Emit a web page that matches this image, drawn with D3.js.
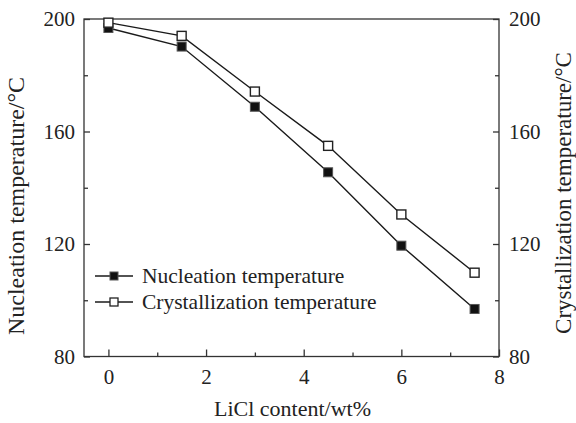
<!DOCTYPE html>
<html><head><meta charset="utf-8">
<script src="https://cdn.jsdelivr.net/npm/d3@7"></script>
<style>body{margin:0;background:#fff}svg{display:block}text{font-family:"Liberation Serif","Times New Roman",serif;fill:#222}</style>
</head><body><svg id="c" width="576" height="423"></svg>
<script>
const licl = [0, 1.5, 3, 4.5, 6, 7.5];
const nucleation = [196.8, 190.2, 168.8, 145.5, 119.4, 96.9];
const crystallization = [198.7, 194.0, 174.2, 154.9, 130.5, 109.8];
const xTicks = [0, 2, 4, 6, 8];
const yTicks = [80, 120, 160, 200];
const seriesNames = ["Nucleation temperature", "Crystallization temperature"];
const xLabel = "LiCl content/wt%";
const yLabelLeft = "Nucleation temperature/°C";
const yLabelRight = "Crystallization temperature/°C";

const svg = d3.select("#c");
const L = 84, R = 499, T = 19, B = 356.5;
const x = d3.scaleLinear().domain([-0.5, 8]).range([L, R]);
const y = d3.scaleLinear().domain([80, 200]).range([B, T]);
const fs = 21;
const axisCol = "#333";

// frame
svg.append("rect").attr("x", L).attr("y", T).attr("width", R - L).attr("height", B - T)
  .attr("fill", "none").attr("stroke", axisCol).attr("stroke-width", 1.3);

// x ticks (inward)
const xMinor = d3.range(1, 8, 2);
const bx = svg.append("g").attr("transform", `translate(0,${B})`)
  .call(d3.axisBottom(x).tickValues(xTicks).tickSize(-7).tickPadding(13).tickFormat(d3.format("d")));
bx.select(".domain").remove();
bx.selectAll("line").attr("stroke", axisCol).attr("stroke-width", 1.3);
bx.selectAll("text").attr("font-size", fs).attr("fill", "#222").attr("font-family", "Liberation Serif");
const bxm = svg.append("g").attr("transform", `translate(0,${B})`)
  .call(d3.axisBottom(x).tickValues(xMinor).tickSize(-4).tickFormat(""));
bxm.select(".domain").remove();
bxm.selectAll("line").attr("stroke", axisCol).attr("stroke-width", 1.3);

// left axis
const yMinor = [100, 140, 180];
const ly = svg.append("g").attr("transform", `translate(${L},0)`)
  .call(d3.axisLeft(y).tickValues(yTicks).tickSize(-6).tickPadding(9));
ly.select(".domain").remove();
ly.selectAll("line").attr("stroke", axisCol).attr("stroke-width", 1.3);
ly.selectAll("text").attr("font-size", fs).attr("fill", "#222").attr("font-family", "Liberation Serif");
const lym = svg.append("g").attr("transform", `translate(${L},0)`)
  .call(d3.axisLeft(y).tickValues(yMinor).tickSize(-4).tickFormat(""));
lym.select(".domain").remove();
lym.selectAll("line").attr("stroke", axisCol).attr("stroke-width", 1.3);

// right axis
const ry = svg.append("g").attr("transform", `translate(${R},0)`)
  .call(d3.axisRight(y).tickValues(yTicks).tickSize(-6).tickPadding(10));
ry.select(".domain").remove();
ry.selectAll("line").attr("stroke", axisCol).attr("stroke-width", 1.3);
ry.selectAll("text").attr("font-size", fs).attr("fill", "#222").attr("font-family", "Liberation Serif");
const rym = svg.append("g").attr("transform", `translate(${R},0)`)
  .call(d3.axisRight(y).tickValues(yMinor).tickSize(-4).tickFormat(""));
rym.select(".domain").remove();
rym.selectAll("line").attr("stroke", axisCol).attr("stroke-width", 1.3);

// axis titles
svg.append("text").attr("transform", `translate(${(L + R) / 2 + 1},416)`).attr("text-anchor", "middle")
  .attr("font-size", 22).text(xLabel);
svg.append("text").attr("transform", `translate(24,206) rotate(-90)`).attr("text-anchor", "middle")
  .attr("font-size", 24).text(yLabelLeft);
svg.append("text").attr("transform", `translate(571,193) rotate(-90)`).attr("text-anchor", "middle")
  .attr("font-size", 23).text(yLabelRight);

// series
const line = d3.line().x(d => x(d[0])).y(d => y(d[1]));
const series = [
  {vals: nucleation, filled: true},
  {vals: crystallization, filled: false}
];
const ms = 9;
series.forEach(s => {
  const pts = licl.map((v, i) => [v, s.vals[i]]);
  svg.append("path").attr("d", line(pts)).attr("fill", "none").attr("stroke", "#1a1a1a").attr("stroke-width", 1.4);
  svg.selectAll(null).data(pts).enter().append("rect")
    .attr("x", d => x(d[0]) - ms / 2).attr("y", d => y(d[1]) - ms / 2)
    .attr("width", ms).attr("height", ms)
    .attr("fill", s.filled ? "#111" : "#fff")
    .attr("stroke", s.filled ? "#555" : "#222").attr("stroke-width", s.filled ? 1 : 1.4);
});

// legend
const legY = [276, 302];
seriesNames.forEach((name, i) => {
  const g = svg.append("g");
  g.append("line").attr("x1", 95).attr("x2", 133).attr("y1", legY[i]).attr("y2", legY[i])
    .attr("stroke", "#1a1a1a").attr("stroke-width", 1.4);
  g.append("rect").attr("x", 114 - 4).attr("y", legY[i] - 4).attr("width", 8).attr("height", 8)
    .attr("fill", series[i].filled ? "#111" : "#fff").attr("stroke", series[i].filled ? "#555" : "#222")
    .attr("stroke-width", series[i].filled ? 1 : 1.3);
  g.append("text").attr("x", 142).attr("y", legY[i] + 7).attr("font-size", 21.5).text(name);
});
</script></body></html>
